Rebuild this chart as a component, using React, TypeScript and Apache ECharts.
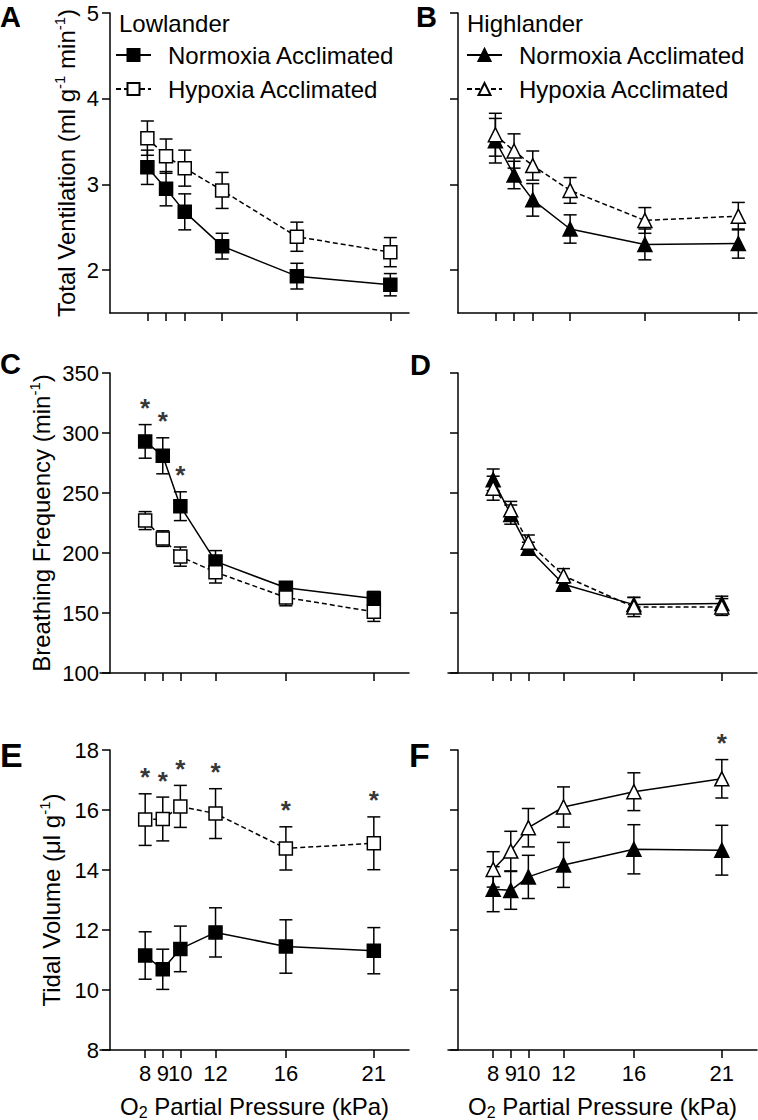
import React, { useEffect, useRef } from 'react';
import * as echarts from 'echarts';

// ---------- data ----------
const PO2 = [8, 9, 10, 12, 16, 21];
const X_TICKS = [8, 9, 10, 12, 16, 21];

// A: Lowlander, total ventilation (ml g-1 min-1)
const A_NORM = [3.2, 2.95, 2.68, 2.28, 1.93, 1.83];
const A_NORM_SE = [0.2, 0.2, 0.21, 0.15, 0.15, 0.13];
const A_HYP = [3.54, 3.33, 3.19, 2.93, 2.39, 2.21];
const A_HYP_SE = [0.2, 0.2, 0.21, 0.21, 0.17, 0.17];

// B: Highlander, total ventilation
const B_NORM = [3.51, 3.11, 2.82, 2.48, 2.3, 2.31];
const B_NORM_SE = [0.26, 0.16, 0.19, 0.165, 0.18, 0.17];
const B_HYP = [3.58, 3.39, 3.22, 2.93, 2.58, 2.63];
const B_HYP_SE = [0.25, 0.2, 0.17, 0.15, 0.15, 0.16];

// C: Lowlander, breathing frequency (min-1)
const C_NORM = [293, 281, 239, 193, 171, 162];
const C_NORM_SE = [14, 15, 12, 9, 4, 6];
const C_HYP = [227, 212, 197, 184, 163, 151];
const C_HYP_SE = [7.5, 6.5, 8, 9, 7, 8];
const C_STARS = [8, 9, 10];

// D: Highlander, breathing frequency
const D_NORM = [261, 232, 204, 174, 157, 158];
const D_NORM_SE = [9, 8, 5, 4, 6, 6];
const D_HYP = [254, 236, 209, 181, 155, 155];
const D_HYP_SE = [10, 7, 6, 6, 8, 7];

// E: Lowlander, tidal volume (µl g-1)
const E_NORM = [11.15, 10.69, 11.37, 11.92, 11.45, 11.31];
const E_NORM_SE = [0.79, 0.67, 0.76, 0.82, 0.89, 0.77];
const E_HYP = [15.68, 15.7, 16.12, 15.88, 14.72, 14.89];
const E_HYP_SE = [0.86, 0.73, 0.7, 0.83, 0.72, 0.88];
const E_STARS = [8, 9, 10, 12, 16, 21];

// F: Highlander, tidal volume
const F_NORM = [13.36, 13.32, 13.77, 14.17, 14.69, 14.66];
const F_NORM_SE = [0.75, 0.63, 0.72, 0.75, 0.82, 0.83];
const F_HYP = [14.02, 14.63, 15.41, 16.1, 16.61, 17.04];
const F_HYP_SE = [0.59, 0.66, 0.64, 0.67, 0.63, 0.64];
const F_STARS = [21];

const VENT_TICKS = [2, 3, 4, 5];
const FREQ_TICKS = [100, 150, 200, 250, 300, 350];
const VOL_TICKS = [8, 10, 12, 14, 16, 18];

const LEGEND_N = 'Normoxia Acclimated';
const LEGEND_H = 'Hypoxia Acclimated';

// ---------- styling ----------
const FONT = '"Liberation Sans", Arial, Helvetica, sans-serif';
const BLACK = '#000';
const LW = 1.5;

type Panel = {
  id: string;
  left: number;
  top: number;
  extended: boolean;
  xMax: number;
  yMin: number;
  yMax: number;
  yTicks: number[];
  yName?: string;
  yNameGap?: number;
  showYLabels: boolean;
  showXLabels: boolean;
  norm: number[];
  normSe: number[];
  hyp: number[];
  hypSe: number[];
  symbol: string;
  symbolSize: number;
  hypDashed: boolean;
  stars: number[];
  starsOn: 'norm' | 'hyp';
};

const PANELS: Panel[] = [
  {
    id: 'A', left: 110, top: 13, extended: false, xMax: 22,
    yMin: 1.5, yMax: 5, yTicks: VENT_TICKS,
    yName: '{a|Total Ventilation (ml g}{s|-1}{a| min}{s|-1}{a|)}', yNameGap: 30,
    showYLabels: true, showXLabels: false,
    norm: A_NORM, normSe: A_NORM_SE, hyp: A_HYP, hypSe: A_HYP_SE,
    symbol: 'rect', symbolSize: 13, hypDashed: true, stars: [], starsOn: 'norm',
  },
  {
    id: 'B', left: 458, top: 13, extended: false, xMax: 22,
    yMin: 1.5, yMax: 5, yTicks: VENT_TICKS,
    showYLabels: false, showXLabels: false,
    norm: B_NORM, normSe: B_NORM_SE, hyp: B_HYP, hypSe: B_HYP_SE,
    symbol: 'triangle', symbolSize: 14, hypDashed: true, stars: [], starsOn: 'norm',
  },
  {
    id: 'C', left: 110, top: 373, extended: true, xMax: 23,
    yMin: 100, yMax: 350, yTicks: FREQ_TICKS,
    yName: '{a|Breathing Frequency (min}{s|-1}{a|)}', yNameGap: 55,
    showYLabels: true, showXLabels: false,
    norm: C_NORM, normSe: C_NORM_SE, hyp: C_HYP, hypSe: C_HYP_SE,
    symbol: 'rect', symbolSize: 13, hypDashed: true, stars: C_STARS, starsOn: 'norm',
  },
  {
    id: 'D', left: 458, top: 373, extended: true, xMax: 23,
    yMin: 100, yMax: 350, yTicks: FREQ_TICKS,
    showYLabels: false, showXLabels: false,
    norm: D_NORM, normSe: D_NORM_SE, hyp: D_HYP, hypSe: D_HYP_SE,
    symbol: 'triangle', symbolSize: 14, hypDashed: true, stars: [], starsOn: 'norm',
  },
  {
    id: 'E', left: 110, top: 750, extended: true, xMax: 23,
    yMin: 8, yMax: 18, yTicks: VOL_TICKS,
    yName: '{a|Tidal Volume (\u03bcl g}{s|-1}{a|)}', yNameGap: 45,
    showYLabels: true, showXLabels: true,
    norm: E_NORM, normSe: E_NORM_SE, hyp: E_HYP, hypSe: E_HYP_SE,
    symbol: 'rect', symbolSize: 13, hypDashed: true, stars: E_STARS, starsOn: 'hyp',
  },
  {
    id: 'F', left: 458, top: 750, extended: true, xMax: 23,
    yMin: 8, yMax: 18, yTicks: VOL_TICKS,
    showYLabels: false, showXLabels: true,
    norm: F_NORM, normSe: F_NORM_SE, hyp: F_HYP, hypSe: F_HYP_SE,
    symbol: 'triangle', symbolSize: 14, hypDashed: false, stars: F_STARS, starsOn: 'hyp',
  },
];

const GRID_W = 299; // y-axis to right end of x-axis
const GRID_H = 300;
const EXT = 10; // x-axis line extends left of the y-axis in panels C-F
const X_MIN = 6;

function errorSeries(idx: number, xs: number[], m: number[], se: number[]) {
  return {
    type: 'custom',
    xAxisIndex: idx,
    yAxisIndex: idx,
    z: 1,
    silent: true,
    data: xs.map((x, k) => [x, m[k] - se[k], m[k] + se[k]]),
    encode: { x: 0, y: [1, 2] },
    renderItem: (_params: any, api: any) => {
      const x = api.value(0);
      const lo = api.coord([x, api.value(1)]);
      const hi = api.coord([x, api.value(2)]);
      const w = 6.5;
      const style = { stroke: BLACK, lineWidth: LW };
      return {
        type: 'group',
        children: [
          { type: 'line', shape: { x1: hi[0], y1: hi[1], x2: lo[0], y2: lo[1] }, style },
          { type: 'line', shape: { x1: hi[0] - w, y1: hi[1], x2: hi[0] + w, y2: hi[1] }, style },
          { type: 'line', shape: { x1: lo[0] - w, y1: lo[1], x2: lo[0] + w, y2: lo[1] }, style },
        ],
      };
    },
  };
}

function lineSeries(
  name: string, idx: number, xs: number[], m: number[],
  symbol: string, size: number, filled: boolean, dashed: boolean,
) {
  return {
    type: 'line',
    name,
    xAxisIndex: idx,
    yAxisIndex: idx,
    z: 3,
    data: xs.map((x, k) => [x, m[k]]),
    symbol,
    symbolSize: size,
    showAllSymbol: true,
    itemStyle: { color: filled ? BLACK : '#fff', borderColor: BLACK, borderWidth: LW },
    lineStyle: { color: BLACK, width: LW, type: dashed ? [5, 3] : 'solid' },
    emphasis: { disabled: true },
    silent: true,
  };
}

function buildOption() {
  const grid: any[] = [];
  const xAxis: any[] = [];
  const yAxis: any[] = [];
  const series: any[] = [];

  const axisLine = { show: true, onZero: false, lineStyle: { color: BLACK, width: LW } };
  const tickStyle = { color: BLACK, width: LW };

  PANELS.forEach((p, i) => {
    const pxPerUnit = GRID_W / (p.xMax - X_MIN);
    const xMin = p.extended ? X_MIN - EXT / pxPerUnit : X_MIN;
    const left = p.extended ? p.left - EXT : p.left;
    const width = p.extended ? GRID_W + EXT : GRID_W;

    grid.push({ left, top: p.top, width, height: GRID_H, outerBoundsMode: 'none' });

    xAxis.push({
      type: 'value',
      gridIndex: i,
      min: xMin,
      max: p.xMax,
      axisLine,
      axisTick: { show: true, length: 8, customValues: X_TICKS, lineStyle: tickStyle },
      axisLabel: {
        show: p.showXLabels,
        customValues: X_TICKS,
        fontSize: 22,
        fontFamily: FONT,
        color: BLACK,
        margin: 12,
      },
      splitLine: { show: false },
      name: p.showXLabels ? '{a|O}{b|2}{a| Partial Pressure (kPa)}' : '',
      nameLocation: 'middle',
      nameGap: 42,
      nameTextStyle: {
        fontSize: 24,
        fontFamily: FONT,
        color: BLACK,
        rich: {
          a: { fontSize: 24, fontFamily: FONT, color: BLACK, lineHeight: 28 },
          b: { fontSize: 16, fontFamily: FONT, color: BLACK, verticalAlign: 'bottom', lineHeight: 28 },
        },
      },
    });

    yAxis.push({
      type: 'value',
      gridIndex: i,
      min: p.yMin,
      max: p.yMax,
      offset: p.extended ? -EXT : 0,
      axisLine,
      axisTick: { show: true, length: 8, customValues: p.yTicks, lineStyle: tickStyle },
      axisLabel: {
        show: p.showYLabels,
        customValues: p.yTicks,
        fontSize: 22,
        fontFamily: FONT,
        color: BLACK,
        margin: 11,
      },
      splitLine: { show: false },
      name: p.yName || '',
      nameLocation: 'middle',
      nameGap: p.yNameGap || 40,
      nameTextStyle: {
        fontSize: 24,
        fontFamily: FONT,
        color: BLACK,
        rich: {
          a: { fontSize: 24, fontFamily: FONT, color: BLACK, lineHeight: 28 },
          s: { fontSize: 15, fontFamily: FONT, color: BLACK, verticalAlign: 'top', lineHeight: 28 },
        },
      },
    });

    series.push(errorSeries(i, PO2, p.norm, p.normSe));
    series.push(errorSeries(i, PO2, p.hyp, p.hypSe));
    series.push(lineSeries(`${p.id}:${LEGEND_N}`, i, PO2, p.norm, p.symbol, p.symbolSize, true, false));
    series.push(lineSeries(`${p.id}:${LEGEND_H}`, i, PO2, p.hyp, p.symbol, p.symbolSize, false, p.hypDashed));

    if (p.stars.length) {
      const m = p.starsOn === 'norm' ? p.norm : p.hyp;
      const se = p.starsOn === 'norm' ? p.normSe : p.hypSe;
      series.push({
        type: 'scatter',
        xAxisIndex: i,
        yAxisIndex: i,
        z: 4,
        silent: true,
        symbolSize: 1,
        itemStyle: { color: 'rgba(0,0,0,0)' },
        data: p.stars.map((x) => {
          const k = PO2.indexOf(x);
          return [x, m[k] + se[k]];
        }),
        label: {
          show: true,
          formatter: '*',
          position: 'top',
          distance: 3,
          fontSize: 26,
          fontWeight: 'bold',
          fontFamily: FONT,
          color: BLACK,
        },
      });
    }
  });

  const legendBase = {
    orient: 'vertical',
    top: 43,
    itemWidth: 35,
    itemHeight: 15,
    itemGap: 10,
    padding: 0,
    selectedMode: false,
    formatter: (n: string) => n.split(':')[1],
    textStyle: { fontSize: 24, fontFamily: FONT, color: BLACK, padding: [0, 0, 0, 12] },
  };

  const letter = (t: string, left: number, top: number, size: number) => ({
    type: 'text',
    left,
    top,
    silent: true,
    style: { text: t, font: `bold ${size}px ${FONT}`, fill: BLACK },
  });

  return {
    animation: false,
    backgroundColor: '#fff',
    title: [
      { text: 'Lowlander', left: 119, top: 11, padding: 0, textStyle: { fontSize: 24, fontWeight: 'normal', fontFamily: FONT, color: BLACK } },
      { text: 'Highlander', left: 467, top: 11, padding: 0, textStyle: { fontSize: 24, fontWeight: 'normal', fontFamily: FONT, color: BLACK } },
    ],
    legend: [
      { ...legendBase, left: 115, data: [`A:${LEGEND_N}`, `A:${LEGEND_H}`] },
      { ...legendBase, left: 466, data: [`B:${LEGEND_N}`, `B:${LEGEND_H}`] },
    ],
    graphic: [
      letter('A', 0, 2, 29),
      letter('B', 416, 2, 29),
      letter('C', 0, 349, 29),
      letter('D', 410, 350, 29),
      letter('E', 0, 738, 34),
      letter('F', 409, 738, 34),
    ],
    grid,
    xAxis,
    yAxis,
    series,
  };
}

export default function App() {
  const ref = useRef<HTMLDivElement>(null);
  useEffect(() => {
    document.body.style.margin = '0';
    if (!ref.current) return;
    const chart = echarts.init(ref.current, undefined, { renderer: 'svg' });
    chart.setOption(buildOption() as any);
    return () => chart.dispose();
  }, []);
  return <div ref={ref} style={{ width: 758, height: 1120 }} />;
}
